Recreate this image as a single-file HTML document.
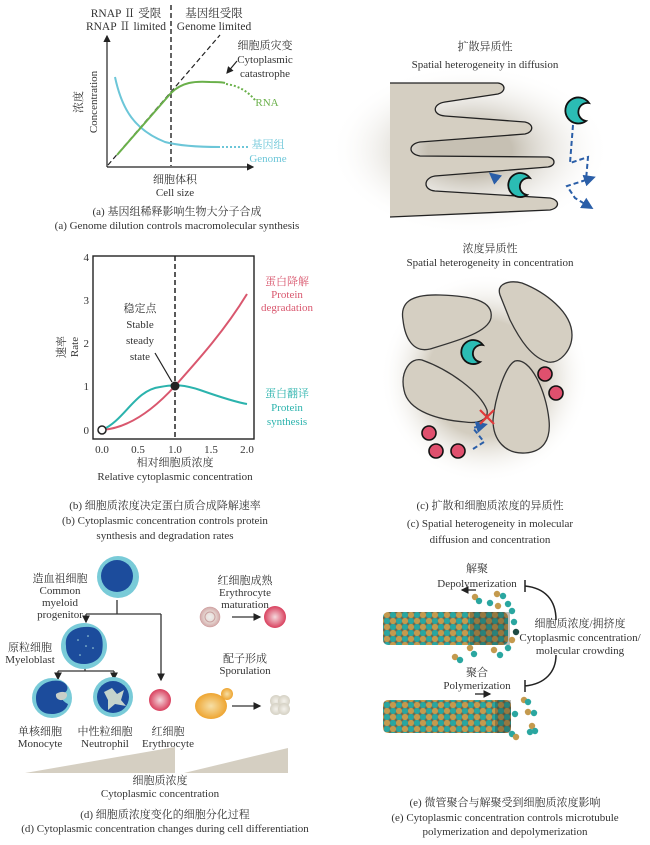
<!DOCTYPE html>
<html><head><meta charset="utf-8"><style>
html,body{margin:0;padding:0;background:#fff}
svg text{font-family:"Liberation Serif","Noto Serif CJK SC",serif;fill:#333}
</style></head><body>
<svg width="650" height="840" viewBox="0 0 650 840" xmlns="http://www.w3.org/2000/svg">
<defs>
<marker id="ah" markerWidth="6" markerHeight="6" refX="5" refY="3" orient="auto"><path d="M0,0 L6,3 L0,6 z" fill="#222"/></marker>
<marker id="ahb" markerWidth="6" markerHeight="6" refX="4" refY="3" orient="auto"><path d="M0,0 L6,3 L0,6 z" fill="#2a5ea8"/></marker>
<radialGradient id="glow1" cx="0.5" cy="0.5" r="0.5"><stop offset="0.3" stop-color="#c6c0b3"/><stop offset="1" stop-color="#fff" stop-opacity="0"/></radialGradient>
<radialGradient id="glow2" cx="0.5" cy="0.5" r="0.5"><stop offset="0.55" stop-color="#d3cdc0"/><stop offset="1" stop-color="#fff" stop-opacity="0"/></radialGradient>
<radialGradient id="rbc" cx="0.5" cy="0.5" r="0.5"><stop offset="0" stop-color="#f4d8dc"/><stop offset="1" stop-color="#d9405e"/></radialGradient>
<radialGradient id="rbc0" cx="0.5" cy="0.5" r="0.5"><stop offset="0" stop-color="#eee"/><stop offset="0.5" stop-color="#e8dcd6"/><stop offset="1" stop-color="#d2a8a8"/></radialGradient>
<radialGradient id="yel" cx="0.5" cy="0.5" r="0.5"><stop offset="0" stop-color="#f6dfa6"/><stop offset="1" stop-color="#eea531"/></radialGradient>
<radialGradient id="spo" cx="0.5" cy="0.5" r="0.5"><stop offset="0" stop-color="#f4f2ec"/><stop offset="1" stop-color="#d5d1c4"/></radialGradient>
<pattern id="mt" width="12" height="12" patternUnits="userSpaceOnUse">
<rect width="12" height="12" fill="#6a6a50"/>
<circle cx="3" cy="3" r="3.1" fill="#c49a4e"/><circle cx="9" cy="3" r="3.1" fill="#2aa6a0"/>
<circle cx="3" cy="9" r="3.1" fill="#2aa6a0"/><circle cx="9" cy="9" r="3.1" fill="#c49a4e"/></pattern>
</defs>

<!-- ===== Panel a ===== -->
<line x1="171" y1="5" x2="171" y2="166" stroke="#222" stroke-width="1.4" stroke-dasharray="5,3"/>
<line x1="108" y1="165" x2="220" y2="35" stroke="#222" stroke-width="1.2" stroke-dasharray="5,3"/>
<line x1="107" y1="167" x2="107" y2="36" stroke="#222" stroke-width="1.2" marker-end="url(#ah)"/>
<line x1="107" y1="167" x2="253" y2="167" stroke="#222" stroke-width="1.2" marker-end="url(#ah)"/>
<path d="M115,77 C122,110 135,130 165,142 C180,146 200,147 220,147" fill="none" stroke="#6cc6d8" stroke-width="2"/>
<path d="M222,147 L250,147" fill="none" stroke="#6cc6d8" stroke-width="2" stroke-dasharray="2,2"/>
<path d="M117,155 L171,93 C182,82 195,81 210,82 C218,82 222,82 225,83" fill="none" stroke="#6ab04a" stroke-width="2"/>
<path d="M226,84 C240,86 248,92 255,100" fill="none" stroke="#6ab04a" stroke-width="2" stroke-dasharray="2,2"/>
<line x1="237" y1="61" x2="227" y2="73" stroke="#222" stroke-width="1.2" marker-end="url(#ah)"/>
<text x="126" y="17" font-size="11.5" text-anchor="middle">RNAP Ⅱ 受限</text>
<text x="126" y="30" font-size="11.5" text-anchor="middle">RNAP Ⅱ  limited</text>
<text x="214" y="17" font-size="11.5" text-anchor="middle">基因组受限</text>
<text x="214" y="30" font-size="11.5" text-anchor="middle">Genome limited</text>
<text x="265" y="49" font-size="11" text-anchor="middle">细胞质灾变</text>
<text x="265" y="63" font-size="11" text-anchor="middle">Cytoplasmic</text>
<text x="265" y="77" font-size="11" text-anchor="middle">catastrophe</text>
<text x="267" y="106" font-size="11" text-anchor="middle" style="fill:#6ab04a">RNA</text>
<text x="268" y="148" font-size="11" text-anchor="middle" style="fill:#6cc6d8">基因组</text>
<text x="268" y="162" font-size="11" text-anchor="middle" style="fill:#6cc6d8">Genome</text>
<text transform="translate(82,102) rotate(-90)" font-size="11" text-anchor="middle">浓度</text>
<text transform="translate(97,102) rotate(-90)" font-size="11" text-anchor="middle">Concentration</text>
<text x="175" y="183" font-size="11" text-anchor="middle">细胞体积</text>
<text x="175" y="196" font-size="11" text-anchor="middle">Cell size</text>
<text x="177" y="215" font-size="11" text-anchor="middle">(a) 基因组稀释影响生物大分子合成</text>
<text x="177" y="229" font-size="11" text-anchor="middle">(a) Genome dilution controls macromolecular synthesis</text>

<!-- ===== Panel b ===== -->
<rect x="93" y="256" width="161" height="183" fill="none" stroke="#222" stroke-width="1.4"/>
<line x1="175" y1="256" x2="175" y2="439" stroke="#222" stroke-width="1.5" stroke-dasharray="5,3"/>
<g font-size="11" text-anchor="end">
<text x="89" y="261">4</text><text x="89" y="304">3</text><text x="89" y="347">2</text><text x="89" y="390">1</text><text x="89" y="434">0</text></g>
<g font-size="11" text-anchor="middle">
<text x="102" y="453">0.0</text><text x="138" y="453">0.5</text><text x="175" y="453">1.0</text><text x="211" y="453">1.5</text><text x="247" y="453">2.0</text></g>
<path d="M102,430 C130,428 155,408 175,386 C200,358 225,330 247,294" fill="none" stroke="#d9576e" stroke-width="2"/>
<path d="M102,430 C125,420 135,390 160,387 C175,384 185,385 200,390 C220,397 235,402 247,404" fill="none" stroke="#2bb3ad" stroke-width="2"/>
<line x1="155" y1="353" x2="172" y2="382" stroke="#222" stroke-width="1.2"/>
<circle cx="175" cy="386" r="4.5" fill="#222"/>
<circle cx="102" cy="430" r="4" fill="#fff" stroke="#222" stroke-width="1.5"/>
<text x="140" y="312" font-size="11" text-anchor="middle">稳定点</text>
<text x="140" y="328" font-size="11" text-anchor="middle">Stable</text>
<text x="140" y="344" font-size="11" text-anchor="middle">steady</text>
<text x="140" y="360" font-size="11" text-anchor="middle">state</text>
<text x="287" y="285" font-size="11" text-anchor="middle" style="fill:#d9576e">蛋白降解</text>
<text x="287" y="298" font-size="11" text-anchor="middle" style="fill:#d9576e">Protein</text>
<text x="287" y="311" font-size="11" text-anchor="middle" style="fill:#d9576e">degradation</text>
<text x="287" y="397" font-size="11" text-anchor="middle" style="fill:#2bb3ad">蛋白翻译</text>
<text x="287" y="411" font-size="11" text-anchor="middle" style="fill:#2bb3ad">Protein</text>
<text x="287" y="425" font-size="11" text-anchor="middle" style="fill:#2bb3ad">synthesis</text>
<text transform="translate(65,347) rotate(-90)" font-size="11" text-anchor="middle">速率</text>
<text transform="translate(78,347) rotate(-90)" font-size="11" text-anchor="middle">Rate</text>
<text x="175" y="466" font-size="11" text-anchor="middle">相对细胞质浓度</text>
<text x="175" y="480" font-size="11" text-anchor="middle">Relative cytoplasmic concentration</text>
<text x="165" y="509" font-size="11" text-anchor="middle">(b) 细胞质浓度决定蛋白质合成降解速率</text>
<text x="165" y="524" font-size="11" text-anchor="middle">(b) Cytoplasmic concentration controls protein</text>
<text x="165" y="539" font-size="11" text-anchor="middle">synthesis and degradation rates</text>

<!-- ===== Panel c top ===== -->
<text x="485" y="50" font-size="11" text-anchor="middle">扩散异质性</text>
<text x="485" y="68" font-size="11" text-anchor="middle">Spatial heterogeneity in diffusion</text>
<ellipse cx="470" cy="150" rx="140" ry="85" fill="url(#glow1)"/>
<path d="M390,83 L498,83 C506,84 506,92 498,94 L445,102 C432,104 432,115 445,116 L525,122 C534,124 534,132 525,134 L420,142 C408,144 408,154 420,156 L548,157 C556,158 556,166 548,167 L435,176 C423,178 423,190 435,191 L550,198 C560,200 560,208 550,210 L390,217 Z" fill="#d5cfc2" stroke="none"/>
<path d="M390,83 L498,83 C506,84 506,92 498,94 L445,102 C432,104 432,115 445,116 L525,122 C534,124 534,132 525,134 L420,142 C408,144 408,154 420,156 L548,157 C556,158 556,166 548,167 L435,176 C423,178 423,190 435,191 L550,198 C560,200 560,208 550,210 L390,217" fill="none" stroke="#222" stroke-width="1.3"/>
<g fill="none" stroke="#2a5ea8" stroke-width="2" stroke-dasharray="5,3">
<path d="M573,125 L570,163 L588,157 L586,180"/>
<path d="M586,180 L567,186 L575,198 L590,207" marker-end="url(#ahb)"/>
<path d="M586,180 L592,178" marker-end="url(#ahb)"/>
<path d="M498,180 L492,175" marker-end="url(#ahb)"/>
</g>
<path d="M589,103 A13,13 0 1 0 586,121 A7,7 0 0 1 589,103 Z" fill="#2bbcb4" stroke="#111" stroke-width="1.8"/>
<path d="M530,178 A12,12 0 1 0 527,195 A6.5,6.5 0 0 1 530,178 Z" fill="#2bbcb4" stroke="#111" stroke-width="1.8"/>

<!-- ===== Panel c bottom ===== -->
<text x="490" y="252" font-size="11" text-anchor="middle">浓度异质性</text>
<text x="490" y="266" font-size="11" text-anchor="middle">Spatial heterogeneity in concentration</text>
<circle cx="485" cy="378" r="105" fill="url(#glow2)"/>
<g fill="#d5cfc2" stroke="#333" stroke-width="1.3">
<path d="M403,320 C400,303 410,294 440,295 C470,296 494,300 491,318 C488,332 460,340 430,349 C413,353 405,338 403,320 Z"/>
<path d="M500,295 C496,283 510,280 522,283 C545,292 572,312 572,335 C572,350 560,364 548,362 C532,358 520,340 510,320 Z"/>
<path d="M404,390 C400,372 410,357 422,360 C450,370 480,392 487,410 C489,420 478,424 465,422 C440,420 408,412 404,390 Z"/>
<path d="M493,420 C495,398 505,366 515,361 C530,357 546,390 549,420 C551,440 543,452 525,453 C505,454 493,440 493,420 Z"/>
</g>
<circle cx="545" cy="374" r="7" fill="#e0506e" stroke="#111" stroke-width="1.6"/>
<circle cx="556" cy="393" r="7" fill="#e0506e" stroke="#111" stroke-width="1.6"/>
<circle cx="429" cy="433" r="7" fill="#e0506e" stroke="#111" stroke-width="1.6"/>
<circle cx="436" cy="451" r="7" fill="#e0506e" stroke="#111" stroke-width="1.6"/>
<circle cx="458" cy="451" r="7" fill="#e0506e" stroke="#111" stroke-width="1.6"/>
<path d="M473,449 L484,442 L473,428 L484,425" fill="none" stroke="#2a5ea8" stroke-width="2" stroke-dasharray="5,3" marker-end="url(#ahb)"/>
<path d="M480,410 L494,424 M494,410 L480,424" stroke="#e03a3a" stroke-width="2.2"/>
<path d="M483,345 A12,12 0 1 0 480,362 A6.5,6.5 0 0 1 483,345 Z" fill="#2bbcb4" stroke="#111" stroke-width="1.8"/>
<text x="490" y="509" font-size="11" text-anchor="middle">(c) 扩散和细胞质浓度的异质性</text>
<text x="490" y="527" font-size="11" text-anchor="middle">(c) Spatial heterogeneity in molecular</text>
<text x="490" y="543" font-size="11" text-anchor="middle">diffusion and concentration</text>

<!-- ===== Panel d ===== -->
<g stroke="#333" stroke-width="1.3" fill="none">
<path d="M117,600 L117,614 M86,614 L161,614"/>
<line x1="86" y1="614" x2="86" y2="622" marker-end="url(#ah)"/>
<line x1="161" y1="614" x2="161" y2="680" marker-end="url(#ah)"/>
<path d="M85,668 L85,671 M58,671 L114,671"/>
<line x1="58" y1="671" x2="58" y2="679" marker-end="url(#ah)"/>
<line x1="114" y1="671" x2="114" y2="679" marker-end="url(#ah)"/>
<line x1="232" y1="617" x2="260" y2="617" marker-end="url(#ah)"/>
<line x1="232" y1="706" x2="260" y2="706" marker-end="url(#ah)"/>
</g>
<circle cx="118" cy="577" r="21" fill="#79cbd8"/><circle cx="117" cy="576" r="16" fill="#1c4c9c"/>
<circle cx="84" cy="646" r="23" fill="#79cbd8"/>
<path d="M66,646 C64,632 76,626 90,627 C102,628 104,640 102,652 C99,664 82,667 73,661 C68,657 66,652 66,646 Z" fill="#1c4c9c"/>
<g fill="#cfe" opacity="0.8"><circle cx="78" cy="640" r="0.8"/><circle cx="88" cy="636" r="0.8"/><circle cx="93" cy="648" r="0.8"/><circle cx="80" cy="655" r="0.8"/><circle cx="86" cy="646" r="0.8"/></g>
<circle cx="52" cy="698" r="20" fill="#79cbd8"/><path d="M36,698 C36,686 48,679 60,681 C68,683 70,690 64,693 C58,697 64,702 68,704 C66,712 55,716 45,713 C38,710 36,704 36,698 Z" fill="#1c4c9c"/>
<path d="M56,694 C62,690 70,692 66,698 C62,702 55,700 56,694 Z" fill="#c8cfc8"/>
<circle cx="113" cy="697" r="20" fill="#79cbd8"/><circle cx="113" cy="697" r="16" fill="#1c4c9c"/>
<path d="M104,692 L112,688 L117,694 L124,690 L121,700 L126,706 L115,704 L108,710 L108,700 Z" fill="#c5d4cc"/>
<circle cx="160" cy="700" r="11" fill="url(#rbc)"/>
<circle cx="210" cy="617" r="10" fill="url(#rbc0)" stroke="#c99" stroke-width="0.5"/>
<circle cx="210" cy="617" r="5" fill="none" stroke="#c9a0a0" stroke-width="1"/>
<circle cx="275" cy="617" r="11" fill="url(#rbc)"/>
<ellipse cx="211" cy="706" rx="16" ry="13" fill="url(#yel)"/>
<circle cx="227" cy="694" r="6" fill="url(#yel)"/>
<circle cx="276" cy="701" r="6" fill="url(#spo)"/><circle cx="284" cy="701" r="6" fill="url(#spo)"/>
<circle cx="276" cy="709" r="6" fill="url(#spo)"/><circle cx="284" cy="709" r="6" fill="url(#spo)"/>
<path d="M25,773 L175,747 L175,773 Z" fill="#d5cfc2"/>
<path d="M184,773 L288,748 L288,773 Z" fill="#d5cfc2"/>
<g font-size="11" text-anchor="middle">
<text x="60" y="582">造血祖细胞</text><text x="60" y="594">Common</text><text x="60" y="606">myeloid</text><text x="60" y="618">progenitor</text>
<text x="30" y="651">原粒细胞</text><text x="30" y="663">Myeloblast</text>
<text x="40" y="735">单核细胞</text><text x="40" y="747">Monocyte</text>
<text x="105" y="735">中性粒细胞</text><text x="105" y="747">Neutrophil</text>
<text x="168" y="735">红细胞</text><text x="168" y="747">Erythrocyte</text>
<text x="245" y="584">红细胞成熟</text><text x="245" y="596">Erythrocyte</text><text x="245" y="608">maturation</text>
<text x="245" y="662">配子形成</text><text x="245" y="674">Sporulation</text>
<text x="160" y="784">细胞质浓度</text><text x="160" y="797">Cytoplasmic concentration</text>
<text x="165" y="818">(d) 细胞质浓度变化的细胞分化过程</text>
<text x="165" y="832">(d) Cytoplasmic concentration changes during cell differentiation</text>
</g>

<!-- ===== Panel e ===== -->
<rect x="383" y="612" width="125" height="33" rx="5" fill="url(#mt)"/>
<rect x="470" y="612" width="40" height="33" fill="#2a2a20" opacity="0.3"/>
<rect x="383" y="700" width="128" height="33" rx="5" fill="url(#mt)"/>
<rect x="495" y="700" width="16" height="33" fill="#2a2a20" opacity="0.3"/>
<g>
<circle cx="475" cy="597" r="3.2" fill="#c49a4e"/><circle cx="479" cy="601" r="3.2" fill="#2aa6a0"/>
<circle cx="497" cy="594" r="3.2" fill="#c49a4e"/><circle cx="503" cy="596" r="3.2" fill="#2aa6a0"/>
<circle cx="490" cy="603" r="3.2" fill="#2aa6a0"/><circle cx="498" cy="606" r="3.2" fill="#c49a4e"/>
<circle cx="508" cy="604" r="3.2" fill="#2aa6a0"/><circle cx="512" cy="611" r="3.2" fill="#2aa6a0"/>
<circle cx="514" cy="622" r="3.2" fill="#2aa6a0"/><circle cx="516" cy="632" r="3.2" fill="#1d4a44"/>
<circle cx="512" cy="640" r="3.2" fill="#c49a4e"/><circle cx="508" cy="648" r="3.2" fill="#2aa6a0"/>
<circle cx="494" cy="650" r="3.2" fill="#c49a4e"/><circle cx="500" cy="655" r="3.2" fill="#2aa6a0"/>
<circle cx="470" cy="648" r="3.2" fill="#c49a4e"/><circle cx="474" cy="654" r="3.2" fill="#2aa6a0"/>
<circle cx="455" cy="657" r="3.2" fill="#c49a4e"/><circle cx="460" cy="660" r="3.2" fill="#2aa6a0"/>
<circle cx="524" cy="700" r="3.2" fill="#c49a4e"/><circle cx="528" cy="702" r="3.2" fill="#2aa6a0"/>
<circle cx="515" cy="714" r="3.2" fill="#2aa6a0"/><circle cx="528" cy="712" r="3.2" fill="#c49a4e"/><circle cx="534" cy="713" r="3.2" fill="#2aa6a0"/>
<circle cx="512" cy="734" r="3.2" fill="#2aa6a0"/><circle cx="516" cy="737" r="3.2" fill="#c49a4e"/>
<circle cx="532" cy="726" r="3.2" fill="#c49a4e"/><circle cx="535" cy="731" r="3.2" fill="#2aa6a0"/>
<circle cx="530" cy="732" r="3.2" fill="#2aa6a0"/>
</g>
<line x1="476" y1="590" x2="462" y2="590" stroke="#222" stroke-width="1.3" marker-end="url(#ah)"/>
<line x1="475" y1="694" x2="490" y2="694" stroke="#222" stroke-width="1.3" marker-end="url(#ah)"/>
<path d="M525,580 L525,592 M525,586 C545,588 556,600 556,620" fill="none" stroke="#222" stroke-width="1.5"/>
<path d="M525,680 L525,692 M525,686 C545,684 556,672 556,655" fill="none" stroke="#222" stroke-width="1.5"/>
<g font-size="11" text-anchor="middle">
<text x="477" y="572">解聚</text><text x="477" y="587">Depolymerization</text>
<text x="477" y="676">聚合</text><text x="477" y="689">Polymerization</text>
<text x="580" y="627">细胞质浓度/拥挤度</text>
<text x="580" y="641">Cytoplasmic concentration/</text>
<text x="580" y="654">molecular crowding</text>
<text x="505" y="806">(e) 微管聚合与解聚受到细胞质浓度影响</text>
<text x="505" y="821">(e) Cytoplasmic concentration controls microtubule</text>
<text x="505" y="835">polymerization and depolymerization</text>
</g>
</svg>
</body></html>
